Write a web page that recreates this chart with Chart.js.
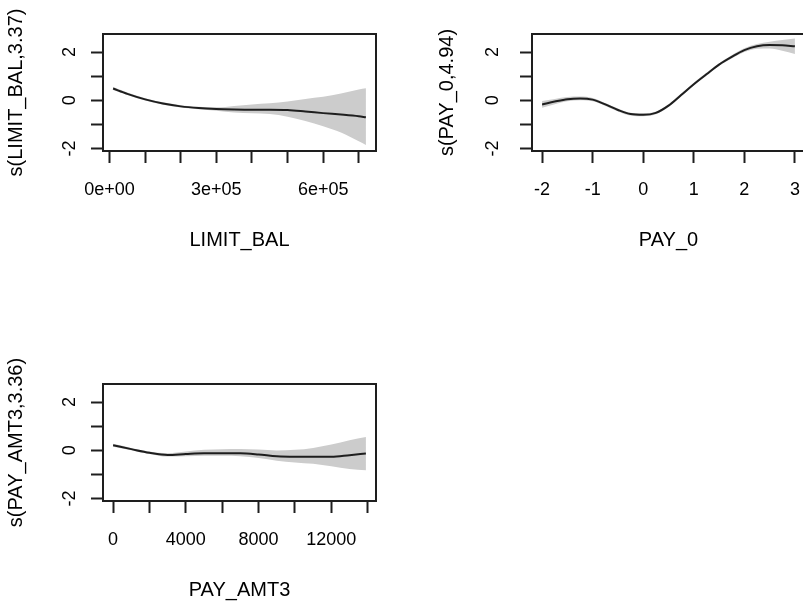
<!DOCTYPE html>
<html>
<head>
<meta charset="utf-8">
<script src="https://cdn.jsdelivr.net/npm/chart.js@4"></script>
<style>
  html, body { margin: 0; padding: 0; background: #fff; overflow: hidden; width: 803px; height: 605px; }
  canvas { position: absolute; }
</style>
</head>
<body>
<canvas id="limit_bal" width="400" height="260" style="left:0;top:0"></canvas>
<canvas id="pay_0" width="440" height="260" style="left:400px;top:0"></canvas>
<canvas id="pay_amt3" width="400" height="260" style="left:0;top:350px"></canvas>
<script>
// s(LIMIT_BAL) smooth term + band
const limitBalX = [10000, 50000, 100000, 150000, 200000, 250000, 300000, 350000, 400000, 450000, 500000, 550000, 600000, 650000, 700000, 720000];
const limitBalFit = [0.49, 0.27, 0.04, -0.13, -0.25, -0.32, -0.36, -0.38, -0.39, -0.39, -0.40, -0.46, -0.53, -0.59, -0.66, -0.70];
const limitBalUpper = [0.55, 0.32, 0.09, -0.08, -0.20, -0.27, -0.29, -0.23, -0.17, -0.12, -0.05, 0.06, 0.15, 0.28, 0.45, 0.50];
const limitBalLower = [0.43, 0.22, -0.01, -0.18, -0.30, -0.37, -0.43, -0.50, -0.53, -0.57, -0.68, -0.86, -1.07, -1.33, -1.70, -1.85];
const limitBalTicks = [0, 100000, 200000, 300000, 400000, 500000, 600000, 700000];
const limitBalTickLabels = ['0e+00', '', '', '3e+05', '', '', '6e+05', ''];

// s(PAY_0)
const pay0X = [-2, -1.75, -1.5, -1.25, -1, -0.75, -0.5, -0.25, 0, 0.25, 0.5, 0.75, 1, 1.25, 1.5, 1.75, 2, 2.25, 2.5, 2.75, 3];
const pay0Fit = [-0.17, -0.05, 0.05, 0.08, 0.03, -0.17, -0.40, -0.57, -0.60, -0.52, -0.22, 0.22, 0.67, 1.08, 1.48, 1.80, 2.08, 2.24, 2.29, 2.28, 2.24];
const pay0Upper = [-0.03, 0.06, 0.14, 0.16, 0.10, -0.11, -0.34, -0.51, -0.54, -0.46, -0.16, 0.28, 0.73, 1.14, 1.54, 1.87, 2.16, 2.34, 2.43, 2.50, 2.56];
const pay0Lower = [-0.31, -0.16, -0.04, 0.00, -0.04, -0.23, -0.46, -0.63, -0.66, -0.58, -0.28, 0.16, 0.61, 1.02, 1.42, 1.73, 2.00, 2.14, 2.15, 2.06, 1.92];
const pay0Ticks = [-2, -1, 0, 1, 2, 3];
const pay0TickLabels = ['-2', '-1', '0', '1', '2', '3'];

// s(PAY_AMT3)
const payAmt3X = [0, 1000, 2000, 3000, 4000, 5000, 6000, 7000, 8000, 9000, 10000, 11000, 12000, 13000, 13900];
const payAmt3Fit = [0.21, 0.05, -0.10, -0.19, -0.15, -0.12, -0.12, -0.12, -0.17, -0.25, -0.27, -0.27, -0.27, -0.20, -0.13];
const payAmt3Upper = [0.27, 0.10, -0.05, -0.12, -0.05, 0.02, 0.05, 0.06, 0.03, -0.01, 0.02, 0.10, 0.24, 0.42, 0.55];
const payAmt3Lower = [0.15, 0.00, -0.15, -0.26, -0.24, -0.22, -0.22, -0.24, -0.32, -0.43, -0.50, -0.56, -0.66, -0.77, -0.83];
const payAmt3Ticks = [0, 2000, 4000, 6000, 8000, 10000, 12000, 14000];
const payAmt3TickLabels = ['0', '', '4000', '', '8000', '', '12000', ''];

const yTicks = [-2, -1, 0, 1, 2];
const yTickLabels = ['-2', '', '0', '', '2'];

const FONT = "'Liberation Sans', Arial, sans-serif";
const INK = '#1e1e1e';
const BAND = '#cccccc';

// R draws a box() round the plot region
const boxPlugin = {
  id: 'box',
  afterDraw(chart) {
    const a = chart.chartArea;
    const ctx = chart.ctx;
    ctx.save();
    ctx.strokeStyle = INK;
    ctx.lineWidth = 2;
    ctx.strokeRect(a.left, a.top, a.right - a.left, a.bottom - a.top);
    ctx.restore();
  }
};

function gamPanel(id, xs, fit, upper, lower, xTicks, xTickLabels, xMin, xMax, xTitle, yTitle, p) {
  const pts = ys => xs.map((x, i) => ({x: x, y: ys[i]}));
  return new Chart(document.getElementById(id), {
    type: 'line',
    data: {
      datasets: [
        { data: pts(fit), borderColor: INK, borderWidth: 2, pointRadius: 0, fill: false, cubicInterpolationMode: 'monotone' },
        { data: pts(upper), borderColor: BAND, borderWidth: 0, backgroundColor: BAND, pointRadius: 0, fill: '+1', cubicInterpolationMode: 'monotone' },
        { data: pts(lower), borderColor: BAND, borderWidth: 0, pointRadius: 0, fill: false, cubicInterpolationMode: 'monotone' }
      ]
    },
    options: {
      responsive: false,
      animation: false,
      events: [],
      layout: { padding: { top: 34, right: p.rightPad, bottom: 8, left: 0 } },
      plugins: { legend: { display: false }, tooltip: { enabled: false } },
      scales: {
        x: {
          type: 'linear', min: xMin, max: xMax,
          afterBuildTicks: s => { s.ticks = xTicks.map(v => ({value: v})); },
          afterFit: s => { s.height = 101; },
          border: { display: false },
          grid: { drawOnChartArea: false, tickLength: 12, tickWidth: 2, tickColor: INK },
          ticks: { autoSkip: false, maxRotation: 0, padding: 16, color: '#000',
                   font: { family: FONT, size: 18 }, callback: (v, i) => xTickLabels[i] },
          title: { display: true, text: xTitle, color: '#000', padding: 0, font: { family: FONT, size: 20 } }
        },
        y: {
          min: -2.1, max: 2.75,
          afterBuildTicks: s => { s.ticks = yTicks.map(v => ({value: v})); },
          afterFit: s => { s.width = p.yWidth; },
          border: { display: false },
          grid: { drawOnChartArea: false, tickLength: 12, tickWidth: 2, tickColor: INK },
          ticks: { minRotation: 90, maxRotation: 90, crossAlign: 'center', padding: p.yTickPad, color: '#000',
                   font: { family: FONT, size: 18 }, callback: (v, i) => yTickLabels[i] },
          title: { display: true, text: yTitle, color: '#000', padding: { top: p.yTitlePad, bottom: 0 },
                   font: { family: FONT, size: 20 } }
        }
      }
    },
    plugins: [boxPlugin]
  });
}

gamPanel('limit_bal', limitBalX, limitBalFit, limitBalUpper, limitBalLower,
  limitBalTicks, limitBalTickLabels, -18400, 748400, 'LIMIT_BAL', 's(LIMIT_BAL,3.37)',
  { rightPad: 24, yWidth: 103, yTickPad: 13, yTitlePad: 4 });

gamPanel('pay_0', pay0X, pay0Fit, pay0Upper, pay0Lower,
  pay0Ticks, pay0TickLabels, -2.2, 3.2, 'PAY_0', 's(PAY_0,4.94)',
  { rightPad: 35, yWidth: 132, yTickPad: 19, yTitlePad: 35 });

gamPanel('pay_amt3', payAmt3X, payAmt3Fit, payAmt3Upper, payAmt3Lower,
  payAmt3Ticks, payAmt3TickLabels, -556, 14456, 'PAY_AMT3', 's(PAY_AMT3,3.36)',
  { rightPad: 24, yWidth: 103, yTickPad: 13, yTitlePad: 4 });
</script>
</body>
</html>
